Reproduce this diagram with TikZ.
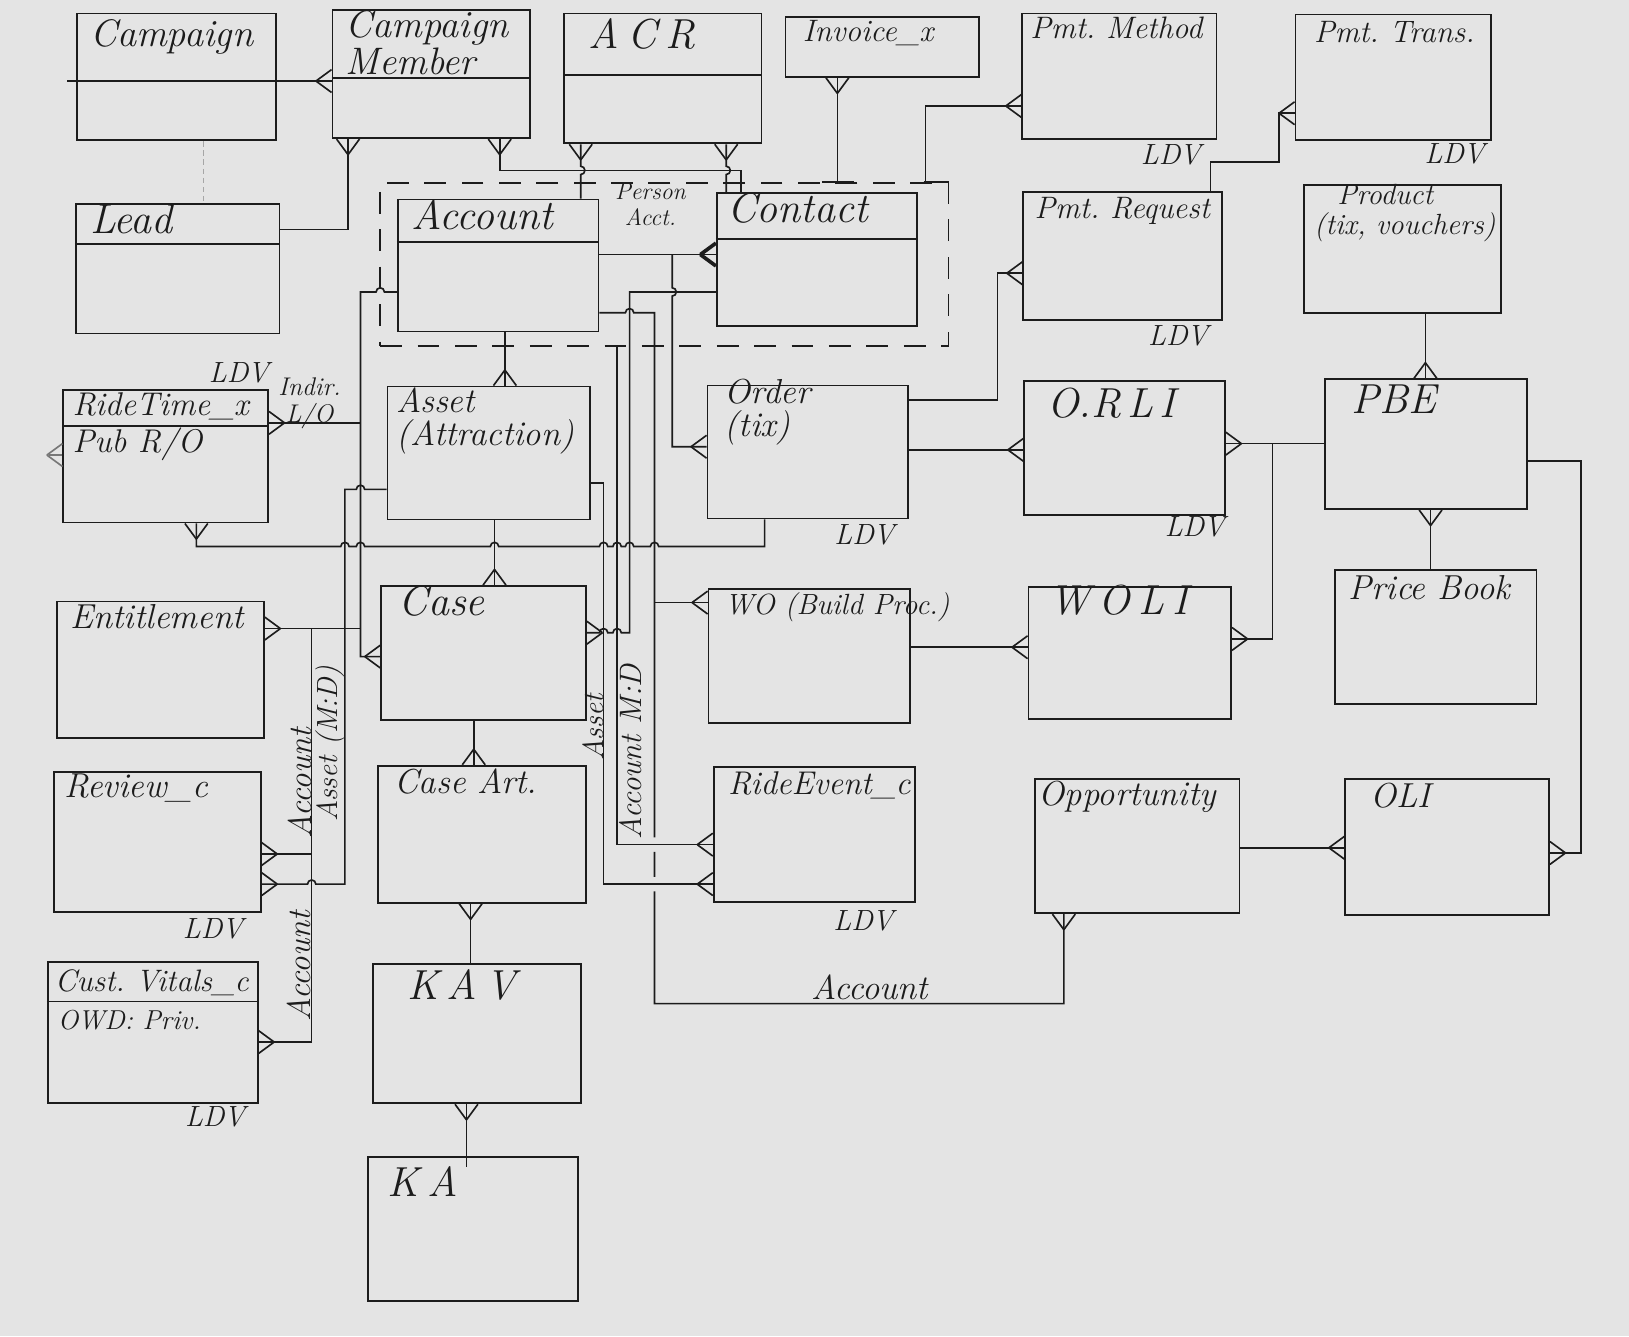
\documentclass[tikz,border=0pt]{standalone}
\usepackage{fontspec}
\usepackage{tikz}
\usetikzlibrary{fit}
\definecolor{paper}{RGB}{228,228,228}
\definecolor{ink}{RGB}{28,28,28}
\frenchspacing

\begin{document}
\begin{tikzpicture}[x=0.02cm, y=-0.02cm, color=ink, line width=0.9pt,
    ebox/.style={draw, inner sep=0pt, line width=1pt},
    grp/.style={draw, inner sep=0pt, line width=1pt, dash pattern=on 0.42cm off 0.3cm},
    ttl/.style={anchor=west, inner sep=0pt, align=left, font=\fontsize{23}{20}\selectfont\itshape},
    ttlm/.style={ttl, font=\fontsize{19}{18}\selectfont\itshape},
    ttls/.style={ttl, font=\fontsize{17}{16}\selectfont\itshape},
    ldv/.style={inner sep=0pt, font=\fontsize{16}{18}\selectfont\itshape},
    rel/.style={inner sep=0pt, align=center, font=\fontsize{16}{16}\selectfont\itshape},
    crow/.pic={\draw (15,0) -- (0,11) (15,0) -- (0,-11);},
    hopr/.style={insert path={arc[start angle=180, end angle=0, radius=0.08cm]}},
    hopl/.style={insert path={arc[start angle=0, end angle=180, radius=0.08cm]}},
    hopd/.style={insert path={arc[start angle=90, end angle=-90, radius=0.08cm]}}]

    % 1. Paper
    \useasboundingbox (0,0) rectangle (1568,1286);
    \fill[paper] (0,0) rectangle (1568,1286);

    % 2. Entities
    \node[ebox, fit={(74,13) (266,135)}] (camp) {};
    \node[ebox, fit={(320,10) (510,133)}] (cmem) {};
    \node[ebox, fit={(543,13) (733,138)}] (acr) {};
    \node[ebox, fit={(756,16) (942,74)}] (inv) {};
    \node[ebox, fit={(984,13) (1171,134)}] (pmeth) {};
    \node[ebox, fit={(1247,14) (1435,135)}] (ptrans) {};
    \node[ebox, fit={(73,196) (269,321)}] (lead) {};
    \node[ebox, fit={(383,192) (576,319)}] (acct) {};
    \node[ebox, fit={(690,186) (883,314)}] (cont) {};
    \node[grp, fit={(366,176) (913,333)}] (pacct) {};
    \node[ebox, fit={(985,185) (1176,308)}] (preq) {};
    \node[ebox, fit={(1255,178) (1445,301)}] (prod) {};
    \node[ebox, fit={(61,375) (258,503)}] (rtime) {};
    \node[ebox, fit={(373,372) (568,500)}] (asset) {};
    \node[ebox, fit={(681,371) (874,499)}] (ordr) {};
    \node[ebox, fit={(986,367) (1179,496)}] (orli) {};
    \node[ebox, fit={(1275,365) (1470,490)}] (pbe) {};
    \node[ebox, fit={(55,579) (254,710)}] (ent) {};
    \node[ebox, fit={(367,564) (564,693)}] (case) {};
    \node[ebox, fit={(682,567) (876,696)}] (wo) {};
    \node[ebox, fit={(990,565) (1185,692)}] (woli) {};
    \node[ebox, fit={(1285,549) (1479,678)}] (pbook) {};
    \node[ebox, fit={(52,743) (251,878)}] (rvw) {};
    \node[ebox, fit={(364,737) (564,869)}] (cart) {};
    \node[ebox, fit={(687,738) (881,868)}] (revt) {};
    \node[ebox, fit={(996,750) (1193,879)}] (opp) {};
    \node[ebox, fit={(1295,750) (1491,881)}] (oli) {};
    \node[ebox, fit={(46,926) (248,1062)}] (cvit) {};
    \node[ebox, fit={(359,928) (559,1062)}] (kav) {};
    \node[ebox, fit={(354,1114) (556,1252)}] (ka) {};

    % 3. Header lines
    \foreach \n/\y in {camp/78, cmem/75, acr/72, lead/235, acct/233, cont/230, rtime/410, cvit/964}
        \draw (\n.west |- 0,\y) -- (\n.east |- 0,\y);
    \draw (camp.west |- 0,78) -- ++(-9,0);

    % 4. Titles
    \node[ttl, font=\fontsize{21}{20}\selectfont\itshape] (camp-t) at (86,36) {Campaign};
    \node[ttl, font=\fontsize{21}{17}\selectfont\itshape] (cmem-t) at (332,41) {Campaign\\Member};
    \node[ttl] (acr-t) at (566,33) {A\hspace{0.2em}C\hspace{0.2em}R};
    \node[ttls] (inv-t) at (772,32) {Invoice\_x};
    \node[ttls] (pmeth-t) at (991,27) {Pmt. Method};
    \node[ttls] (ptrans-t) at (1264,31) {Pmt. Trans.};
    \node[ttl] (lead-t) at (86,211) {Lead};
    \node[ttl] (acct-t) at (395,207) {Account};
    \node[ttl] (cont-t) at (699,200) {Contact};
    \node[ttls] (preq-t) at (995,203) {Pmt. Request};
    \node[ttl, font=\fontsize{16}{16}\selectfont\itshape] (prod-t) at (1264,205) {\hspace*{0.8em}Product\\(tix, vouchers)};
    \node[ttlm, font=\fontsize{18}{18}\selectfont\itshape] (rtime-t) at (69,391) {RideTime\_x};
    \node[ttlm, font=\fontsize{18}{18}\selectfont\itshape] (rtime-a) at (69,428) {Pub R/O};
    \node[ttlm] (asset-t) at (381,405) {Asset\\(Attraction)};
    \node[ttlm] (ordr-t) at (697,397) {Order\\(tix)};
    \node[ttl] (orli-t) at (1007,388) {O.R\hspace{0.15em}L\hspace{0.15em}I};
    \node[ttl] (pbe-t) at (1300,384) {PBE};
    \node[ttlm] (ent-t) at (67,594) {Entitlement};
    \node[ttl] (case-t) at (383,579) {Case};
    \node[ttls, font=\fontsize{16}{16}\selectfont\itshape] (wo-t) at (697,584) {WO (Build Proc.)};
    \node[ttl] (woli-t) at (1009,578) {W\hspace{0.2em}O\hspace{0.2em}L\hspace{0.2em}I};
    \node[ttlm] (pbook-t) at (1297,566) {Price Book};
    \node[ttlm] (rvw-t) at (61,759) {Review\_c};
    \node[ttlm] (cart-t) at (379,752) {Case Art.};
    \node[ttlm, font=\fontsize{18}{18}\selectfont\itshape] (revt-t) at (700,756) {RideEvent\_c};
    \node[ttlm] (opp-t) at (999,767) {Opportunity};
    \node[ttlm] (oli-t) at (1318,766) {OLI};
    \node[ttlm, font=\fontsize{17}{18}\selectfont\itshape] (cvit-t) at (52,946) {Cust. Vitals\_c};
    \node[ttls, font=\fontsize{15}{16}\selectfont\itshape] (cvit-a) at (55,982) {OWD: Priv.};
    \node[ttl] (kav-t) at (391,948) {K\hspace{0.2em}A\hspace{0.2em}V};
    \node[ttl] (ka-t) at (372,1137) {K\hspace{0.2em}A};

    % 5. Top row links
    \draw (camp.east |- 0,78) -- (cmem.west |- 0,78);
    \pic[rotate=180] at (cmem.west |- 0,78) {crow};
    \draw[gray!70, densely dashed, thin] (camp.south -| 196,0) -- (lead.north -| 196,0);
    \draw (cmem.south -| 335,0) -- (335,221) -- (lead.east |- 0,221);
    \pic[rotate=-90] at (cmem.south -| 335,0) {crow};
    \draw (cmem.south -| 481,0) -- (481,164) -- (713,164) -- (cont.north -| 713,0);
    \pic[rotate=-90] at (cmem.south -| 481,0) {crow};
    \draw (acr.south -| 559,0) -- (559,160) [hopd] -- (acct.north -| 559,0);
    \pic[rotate=-90] at (acr.south -| 559,0) {crow};
    \draw (acr.south -| 699,0) -- (699,160) [hopd] -- (cont.north -| 699,0);
    \pic[rotate=-90] at (acr.south -| 699,0) {crow};
    \draw (inv.south -| 806,0) -- (pacct.north -| 806,0);
    \draw (pacct.north -| 791,0) -- (pacct.north -| 822,0);
    \pic[rotate=-90] at (inv.south -| 806,0) {crow};
    \draw (pmeth.west |- 0,102) -- (891,102) -- (pacct.north -| 891,0);
    \draw (pacct.north -| 889,0) -- (pacct.north -| 913,0);
    \pic[rotate=180] at (pmeth.west |- 0,102) {crow};
    \draw (preq.north -| 1165,0) -- (1165,156) -- (1231,156) -- (1231,109) -- (ptrans.west |- 0,109);
    \pic[rotate=180] at (ptrans.west |- 0,109) {crow};

    % 6. Person account
    \draw (acct.east |- 0,245) -- (cont.west |- 0,245);
    \pic[rotate=180, line width=2pt] at (cont.west |- 0,245) {crow};
    \node[rel, font=\fontsize{13}{14}\selectfont\itshape] (pa-l) at (626,197) {Person\\Acct.};
    \draw (647,245) -- (647,277) [hopd] -- (647,430) -- (ordr.west |- 0,430);
    \pic[rotate=180] at (ordr.west |- 0,430) {crow};
    \draw (cont.west |- 0,281) -- (606,281) -- (606,609) -- (598,609) [hopl] -- (585,609) [hopl] -- (case.east |- 0,609);
    \pic at (case.east |- 0,609) {crow};
    \draw (acct.east |- 0,301) -- (602,301) [hopr] -- (630,301) -- (630,806) (630,820) -- (630,844) (630,858) -- (630,966) -- (1024,966) -- (opp.south -| 1024,0);
    \pic[rotate=-90] at (opp.south -| 1024,0) {crow};
    \node[rel, font=\fontsize{19}{18}\selectfont\itshape] (acc-l3) at (837,950) {Account};
    \draw (630,580) -- (wo.west |- 0,580);
    \pic[rotate=180] at (wo.west |- 0,580) {crow};
    \draw (pacct.south -| 594,0) -- (594,813) -- (revt.west |- 0,813);
    \pic[rotate=180] at (revt.west |- 0,813) {crow};
    \node[rel, rotate=90, font=\fontsize{17}{16}\selectfont\itshape] (amd-l) at (607,724) {Account M:D};
    \draw (asset.east |- 0,465) -- (581,465) -- (581,851) -- (revt.west |- 0,851);
    \pic[rotate=180] at (revt.west |- 0,851) {crow};
    \node[rel, rotate=90] (ass-l) at (571,700) {Asset};

    % 7. Account, asset, case chain
    \draw (acct.south -| 486,0) -- (asset.north -| 486,0);
    \pic[rotate=90] at (asset.north -| 486,0) {crow};
    \draw (asset.south -| 476,0) -- (case.north -| 476,0);
    \pic[rotate=90] at (case.north -| 476,0) {crow};
    \draw (case.south -| 456,0) -- (cart.north -| 456,0);
    \pic[rotate=90] at (cart.north -| 456,0) {crow};
    \draw (cart.south -| 453,0) -- (kav.north -| 453,0);
    \pic[rotate=-90] at (cart.south -| 453,0) {crow};
    \draw (kav.south -| 449,0) -- (ka.north -| 449,0) -- ++(0,10);
    \pic[rotate=-90] at (kav.south -| 449,0) {crow};

    % 8. Left side links
    \draw (acct.west |- 0,281) -- (370,281) [hopl] -- (347,281) -- (347,632) -- (case.west |- 0,632);
    \pic[rotate=180] at (case.west |- 0,632) {crow};
    \draw (rtime.east |- 0,407) -- (347,407);
    \pic at (rtime.east |- 0,407) {crow};
    \node[rel, font=\fontsize{14}{15}\selectfont\itshape] (ind-l) at (298,388) {Indir.\\L/O};
    \draw[ink!60] (rtime.west |- 0,438) -- ++(-13,0);
    \pic[rotate=180, ink!60] at (rtime.west |- 0,438) {crow};
    \draw (ent.east |- 0,605) -- (347,605);
    \pic at (ent.east |- 0,605) {crow};
    \draw (300,605) -- (300,1003) -- (cvit.east |- 0,1003);
    \pic at (cvit.east |- 0,1003) {crow};
    \draw (rvw.east |- 0,822) -- (300,822);
    \pic at (rvw.east |- 0,822) {crow};
    \draw (asset.west |- 0,471) -- (351,471) [hopl] -- (332,471) -- (332,851) -- (304,851) [hopl] -- (rvw.east |- 0,851);
    \pic at (rvw.east |- 0,851) {crow};
    \node[rel, rotate=90, font=\fontsize{18}{16}\selectfont\itshape] (acc-l1) at (289,754) {Account};
    \node[rel, rotate=90] (asm-l) at (318,716) {Asset (M:D)};
    \node[rel, rotate=90, font=\fontsize{18}{16}\selectfont\itshape] (acc-l2) at (288,930) {Account};
    \draw (rtime.south -| 189,0) -- (189,526) -- (328,526) [hopr] -- (343,526) [hopr] -- (472,526) [hopr]
        -- (577,526) [hopr] -- (590,526) [hopr] -- (602,526) [hopr] -- (626,526) [hopr] -- (736,526) -- (ordr.south -| 736,0);
    \pic[rotate=-90] at (rtime.south -| 189,0) {crow};

    % 9. Order, work order and price links
    \draw (preq.west |- 0,263) -- (960,263) -- (960,385) -- (ordr.east |- 0,385);
    \pic[rotate=180] at (preq.west |- 0,263) {crow};
    \draw (ordr.east |- 0,433) -- (orli.west |- 0,433);
    \pic[rotate=180] at (orli.west |- 0,433) {crow};
    \draw (orli.east |- 0,427) -- (pbe.west |- 0,427);
    \pic at (orli.east |- 0,427) {crow};
    \draw (woli.east |- 0,615) -- (1225,615) -- (1225,427);
    \pic at (woli.east |- 0,615) {crow};
    \draw (wo.east |- 0,623) -- (woli.west |- 0,623);
    \pic[rotate=180] at (woli.west |- 0,623) {crow};
    \draw (prod.south -| 1372,0) -- (pbe.north -| 1372,0);
    \pic[rotate=90] at (pbe.north -| 1372,0) {crow};
    \draw (pbe.south -| 1377,0) -- (pbook.north -| 1377,0);
    \pic[rotate=-90] at (pbe.south -| 1377,0) {crow};
    \draw (pbe.east |- 0,444) -- (1522,444) -- (1522,821) -- (oli.east |- 0,821);
    \pic at (oli.east |- 0,821) {crow};
    \draw (opp.east |- 0,816) -- (oli.west |- 0,816);
    \pic[rotate=180] at (oli.west |- 0,816) {crow};

    % 10. LDV marks
    \node[ldv] (ldv1) at (230,359) {LDV};
    \node[ldv] (ldv2) at (1127,149) {LDV};
    \node[ldv] (ldv3) at (1400,148) {LDV};
    \node[ldv] (ldv4) at (1134,323) {LDV};
    \node[ldv] (ldv5) at (832,515) {LDV};
    \node[ldv] (ldv6) at (1150,507) {LDV};
    \node[ldv] (ldv7) at (205,894) {LDV};
    \node[ldv] (ldv8) at (831,886) {LDV};
    \node[ldv] (ldv9) at (207,1075) {LDV};
\end{tikzpicture}
\end{document}
